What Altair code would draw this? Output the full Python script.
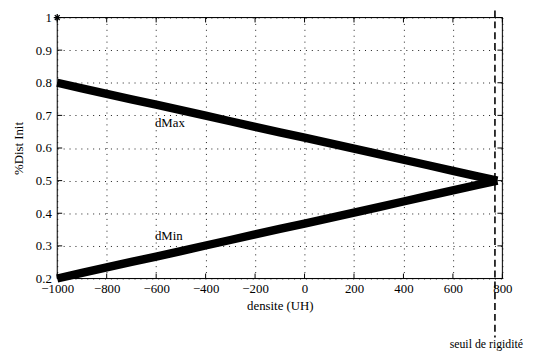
import altair as alt
import pandas as pd

# data
dens = [-1000, -900, -800, -700, -600, -500, -400, -300, -200, -100, 0, 100, 200, 300, 400, 500, 600, 700, 780]
dmax = [0.800, 0.783, 0.766, 0.749, 0.733, 0.716, 0.699, 0.682, 0.665, 0.648, 0.632, 0.615, 0.598, 0.581, 0.564, 0.547, 0.530, 0.513, 0.500]
dmin = [0.200, 0.217, 0.234, 0.251, 0.267, 0.284, 0.301, 0.318, 0.335, 0.352, 0.368, 0.385, 0.402, 0.419, 0.436, 0.453, 0.470, 0.487, 0.500]
x_ticks = [-1000, -800, -600, -400, -200, 0, 200, 400, 600, 800]
y_ticks = [0.2, 0.3, 0.4, 0.5, 0.6, 0.7, 0.8, 0.9, 1.0]
seuil = 770
labels = ["dMax", "dMin"]
label_x = [-605, -605]
label_y = [0.677, 0.330]
star_x = [-1000]
star_y = [1.0]

FONT = "Liberation Serif"
FS = 13
W, H = 452, 265

df = pd.DataFrame({"x": dens * 2, "y": dmax + dmin,
                   "s": ["dMax"] * len(dens) + ["dMin"] * len(dens)})

xs = alt.Scale(domain=[-1000, 800], nice=False, zero=False)
ys = alt.Scale(domain=[0.2, 1.0], nice=False, zero=False)

xaxis = alt.Axis(values=x_ticks, format="d", grid=True, gridColor="black",
                 gridDash=[1, 5], gridOpacity=0.9, ticks=False, labelPadding=4,
                 labelFont=FONT, labelFontSize=FS, labelColor="black",
                 labelOverlap=False,
                 title="densite (UH)", titleFont=FONT, titleFontSize=FS,
                 titleFontWeight="normal", titleColor="black", titlePadding=5,
                 domain=False, labelFlush=False)
yaxis = alt.Axis(values=y_ticks, grid=True, gridColor="black",
                 labelExpr="datum.value == 1 ? '1' : format(datum.value, '.1f')",
                 gridDash=[1, 5], gridOpacity=0.9, ticks=False, labelPadding=6,
                 labelFont=FONT, labelFontSize=FS, labelColor="black",
                 labelOverlap=False,
                 title="%Dist Init", titleFont=FONT, titleFontSize=FS,
                 titleFontWeight="normal", titleColor="black", titlePadding=10,
                 domain=False)


def X(field="x"):
    return alt.X(f"{field}:Q", scale=xs, axis=xaxis)


def Y(field="y"):
    return alt.Y(f"{field}:Q", scale=ys, axis=yaxis)


lines = alt.Chart(df).mark_line(color="black", strokeWidth=8.5, strokeCap="butt").encode(
    x=X(), y=Y(), detail="s:N")

tdf = pd.DataFrame({"x": label_x, "y": label_y, "t": labels})
texts = alt.Chart(tdf).mark_text(font=FONT, fontSize=FS, align="left",
                                 baseline="middle", color="black").encode(
    x=X(), y=Y(), text="t:N")

sdf = pd.DataFrame({"x": star_x, "y": star_y})
star = alt.Chart(sdf).mark_point(
    shape="M-1,0L1,0M0,-1L0,1M-0.7,-0.7L0.7,0.7M-0.7,0.7L0.7,-0.7",
    size=50, color="black", strokeWidth=1.3, filled=False, opacity=1).encode(
    x=X(), y=Y())

# frame
frame = alt.Chart(pd.DataFrame({"a": [0]})).mark_rect(
    fill=None, stroke="black", strokeWidth=1).encode(
    x=alt.value(0), x2=alt.value(W), y=alt.value(0), y2=alt.value(H))

# inward ticks
xt = pd.DataFrame({"x": x_ticks})
yt = pd.DataFrame({"y": y_ticks})
xt_b = alt.Chart(xt).mark_rule(color="black").encode(
    x=X(), y=alt.value(H), y2=alt.value(H - 5))
xt_t = alt.Chart(xt).mark_rule(color="black").encode(
    x=X(), y=alt.value(0), y2=alt.value(5))
yt_l = alt.Chart(yt).mark_rule(color="black").encode(
    y=Y(), x=alt.value(0), x2=alt.value(5))
yt_r = alt.Chart(yt).mark_rule(color="black").encode(
    y=Y(), x=alt.value(W), x2=alt.value(W - 5))

sd = pd.DataFrame({"x": [seuil], "t": ["seuil de rigidité"]})
rule = alt.Chart(sd).mark_rule(color="black", strokeWidth=1.6,
                               strokeDash=[7, 4]).encode(
    x=X(), y=alt.value(-7), y2=alt.value(325))
stext = alt.Chart(sd).mark_text(font=FONT, fontSize=12, align="left",
                                baseline="middle", color="black", dx=-46).encode(
    x=X(), y=alt.value(332), text="t:N")

chart = alt.layer(lines, texts, star, frame, xt_b, xt_t, yt_l, yt_r, rule, stext).properties(
    width=W, height=H,
    autosize=alt.AutoSizeParams(type="none"),
    padding={"left": 50, "top": 7, "right": 24, "bottom": 73},
).configure_view(stroke=None).configure(background="white")

chart.save("out.html", embed_options={"renderer": "svg", "actions": False})
